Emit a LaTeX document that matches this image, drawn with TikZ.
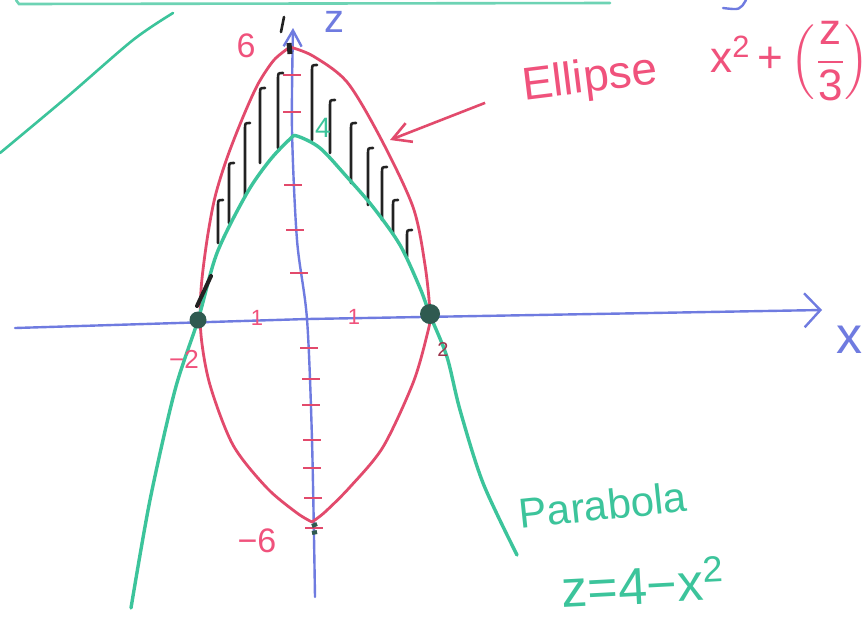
\documentclass[tikz,border=0pt]{standalone}
\usepackage{fontspec}
\setmainfont{Liberation Sans}
\usepackage{amsmath}
\usepackage{tikz}
\usetikzlibrary{positioning,arrows.meta,calc}
\definecolor{ink}      {HTML}{222222}
\definecolor{rosered}  {HTML}{E24A6C}
\definecolor{rosetext} {HTML}{F0527C}
\definecolor{pargreen} {HTML}{3CC49B}
\definecolor{axisblue} {HTML}{6F7BE0}
\definecolor{dotgreen} {HTML}{2F5A50}
\tikzset{
  >=stealth,
  every node/.style={inner sep=0pt},
  % --- nodes
  redlbl/.style  = {text=rosetext},
  grnlbl/.style  = {text=pargreen},
  blulbl/.style  = {text=axisblue},
  crossdot/.style= {circle, fill=dotgreen, minimum size=8.5pt},
  % --- lines
  axis/.style    = {draw=axisblue, line width=1.2pt, line cap=round},
  ellcurve/.style= {draw=rosered, line width=1.4pt, line cap=round},
  parcurve/.style= {draw=pargreen, line width=1.7pt, line cap=round},
  hatch/.style   = {draw=ink, line width=1.3pt, line cap=round},
  ztick/.style   = {draw=rosered, line width=1.1pt},
}
\newcommand{\fs}[1]{\fontsize{#1}{#1}\selectfont}

\begin{document}
\begin{tikzpicture}[x=0.5pt, y=-0.5pt]
  \useasboundingbox (0,0) rectangle (865,617);
  \fill[white] (0,0) rectangle (865,617);
  \clip (0,0) rectangle (865,617);

  % leftovers at the edge of the page
  \draw[parcurve, draw=pargreen!75, line width=1.3pt] (16,0) -- (19,4) -- (610,3);
  \draw[parcurve, line width=1.3pt] plot[smooth] coordinates {(0,153) (67,97) (133,40) (173,13)};
  \draw[axis] (723,8) .. controls (740,10) .. (746,0);

  % axes
  \coordinate (o)  at (307,319);
  \coordinate (xl) at (15,328);
  \coordinate (xr) at (822,310);
  \coordinate (zb) at (315,597);
  \coordinate (zt) at (293,28);
  \draw[axis, -{Straight Barb[length=8pt,width=17pt]}] (xl) -- (o) -- (xr);
  \draw[axis, -{Straight Barb[length=8pt,width=9pt]}]
    plot[smooth] coordinates {(zb) (312,440) (o) (297,240) (292,130) (zt)};

  % ticks on the z axis
  \foreach \tx/\ty in {292/75, 292/112, 293/185, 295/230, 299/273,
                       309/348, 311/379, 311/405, 312/440, 312/468, 313/498, 314/528}
    \draw[ztick] (\tx-9,\ty) -- (\tx+9,\ty);

  % hatching between the two curves
  \foreach \hx/\htop/\hbot in {218/200/243, 229/163/223, 245/123/197, 260/88/163,
                               278/73/148, 312/65/140, 330/100/153, 351/123/183,
                               368/148/205, 382/167/220, 393/200/234, 407/230/257}
    \draw[hatch] (\hx,\hbot) -- (\hx,\htop+6) .. controls (\hx,\htop) .. (\hx+5,\htop);

  % ellipse
  \draw[ellcurve] plot[smooth] coordinates {(290,47) (313,56) (347,82) (380,137)
    (413,207) (425,265) (430,314) (427,335) (413,383) (383,447) (350,487) (325,512) (312,522)};
  \draw[ellcurve] plot[smooth] coordinates {(312,522) (297,513) (267,488) (233,445)
    (210,385) (201,335) (201,290) (207,240) (215,197) (227,158) (243,117) (258,84) (274,60) (290,47)};

  % parabola
  \draw[parcurve] plot[smooth] coordinates {(131,608) (150,500) (175,390) (198,320)
    (217,253) (247,193) (270,160) (290,139) (297,136)
    (320,148) (347,177) (373,207) (400,245) (420,288) (430,315) (447,357) (460,410)
    (483,483) (517,555)};

  % points where they meet
  \node[crossdot] (pleft)  at (198,320) {};
  \node[crossdot, minimum height=10pt] (pright) at (430,314) {};
  \draw[ink, line width=2pt, line cap=round] (197,306) -- (211,276);
  \draw[ink, line width=2.5pt] (289,43) -- (290,54);
  \draw[dotgreen, line width=2pt] (312,526) -- (317,524) (312,533) -- (317,532);
  \draw[hatch] (284,17) -- (281,32);

  % labels
  \node[blulbl, font=\fs{20}] (lz) at (334,22) {z};
  \node[blulbl, font=\fs{26}] (lx) at (849,340) {x};
  \node[redlbl, font=\fs{17}] (lsix)  at (246,46)  {6};
  \node[redlbl, font=\fs{17}] (lmsix) at (257,541) {−6};
  \node[redlbl, font=\fs{13}] (lmtwo) at (184,359) {−2};
  \node[font=\fs{10}, text=rosered!70!black] (ltwo) at (443,350) {2};
  \node[redlbl, font=\fs{11}] (lonea) at (257,318) {1};
  \node[redlbl, font=\fs{11}] (loneb) at (354,317) {1};
  \node[grnlbl, font=\fs{14}] (lfour) at (323,128) {4};

  \node[redlbl, font=\fs{23}, rotate=7] (lell) at (590,80) {Ellipse};
  \node[redlbl, font=\fs{22}, anchor=west] (lform) at (710,61)
    {x\textsuperscript{2}\,+\,$\left(\dfrac{\text{z}}{\text{3}}\right)$};
  \coordinate (ehit) at (390,140);
  \draw[draw=rosered, line width=1.3pt, shorten <=20pt,
        -{Straight Barb[length=9pt,width=10pt]}] (lell.west) -- (ehit);

  \node[grnlbl, font=\fs{21}, rotate=6] (lpar) at (603,505) {Parabola};
  \node[grnlbl, font=\fs{26}, rotate=3] (lpareq) at (643,582) {z=4−x\textsuperscript{2}};
\end{tikzpicture}
\end{document}
